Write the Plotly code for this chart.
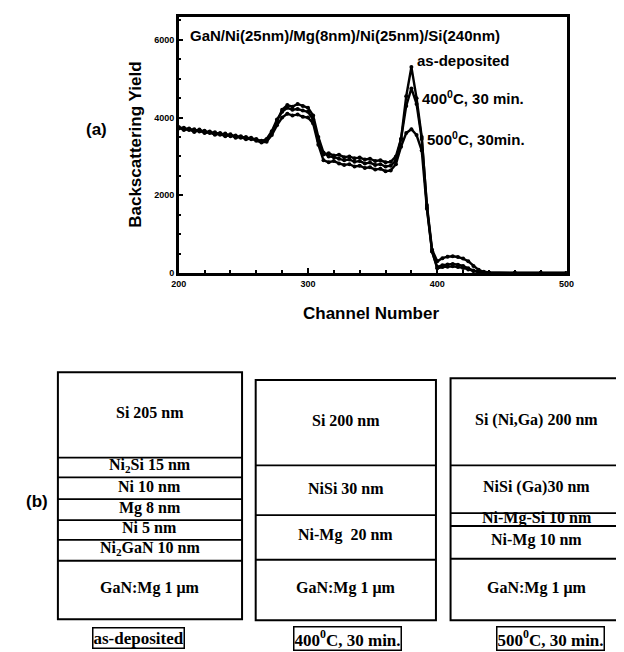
import plotly.graph_objects as go

W, H = 624, 652

# ---------------- data: RBS spectra ----------------
channel = [200, 204, 208, 212, 216, 220, 224, 228, 232, 236, 240, 244, 248, 252, 256, 260,
           264, 268, 272, 276, 280, 284, 288, 292, 296, 300, 304, 308, 312, 316, 320, 324,
           328, 332, 336, 340, 344, 348, 352, 356, 360, 364, 368, 372, 376, 380, 384, 388,
           392, 396, 400, 404, 408, 412, 416, 420, 424, 428, 432, 436, 440, 460, 480, 500]

as_deposited = [3760, 3700, 3720, 3650, 3690, 3620, 3640, 3580, 3600, 3540, 3570, 3500, 3520, 3460, 3480, 3420,
                3400, 3420, 3600, 3900, 4200, 4320, 4280, 4350, 4300, 4250, 4050, 3500, 3100, 3000, 2980, 2940,
                2900, 2920, 2860, 2880, 2820, 2840, 2780, 2800, 2740, 2760, 2900, 3450, 4550, 5300, 4500, 3500,
                1700, 550, 150, 200, 220, 230, 210, 180, 120, 60, 30, 10, 0, 0, 0, 0]

anneal_400 = [3720, 3740, 3680, 3700, 3640, 3660, 3600, 3620, 3560, 3590, 3520, 3540, 3480, 3500, 3440, 3450,
              3380, 3450, 3650, 3950, 4150, 4250, 4200, 4220, 4180, 4150, 3950, 3400, 3050, 3080, 3020, 3040,
              2980, 3000, 2950, 2970, 2920, 2940, 2880, 2900, 2850, 2860, 3000, 3450, 4300, 4750, 4350, 3450,
              1750, 600, 300, 380, 420, 430, 410, 370, 300, 180, 80, 30, 10, 0, 0, 0]

anneal_500 = [3740, 3680, 3700, 3630, 3670, 3600, 3620, 3560, 3580, 3520, 3550, 3480, 3500, 3440, 3460, 3400,
              3360, 3380, 3550, 3800, 4000, 4100, 4050, 4080, 4020, 4000, 3850, 3300, 2900, 2850, 2880, 2820,
              2780, 2800, 2740, 2760, 2700, 2720, 2660, 2680, 2620, 2640, 2800, 3250, 3600, 3700, 3550, 3150,
              1650, 550, 120, 150, 160, 170, 150, 130, 90, 50, 20, 10, 0, 0, 0, 0]

x_ticks = [200, 300, 400, 500]
y_ticks = [0, 2000, 4000, 6000]

# ---------------- data: layer stacks (label, drawn thickness) ----------------
stack1_labels = ["Si 205 nm", "Ni<sub>2</sub>Si 15 nm", "Ni 10 nm", "Mg 8 nm", "Ni 5 nm",
                 "Ni<sub>2</sub>GaN 10 nm", "GaN:Mg 1 μm"]
stack1_sizes = [86, 20, 22, 21, 20, 21, 59]
stack2_labels = ["Si 200 nm", "NiSi 30 nm", "Ni-Mg  20 nm", "GaN:Mg 1 μm"]
stack2_sizes = [86, 50, 45, 61]
stack3_labels = ["Si (Ni,Ga) 200 nm", "NiSi (Ga)30 nm", "Ni-Mg-Si 10 nm", "Ni-Mg 10 nm", "GaN:Mg 1 μm"]
stack3_sizes = [88, 48, 13, 33, 62]
stack_titles = ["as-deposited", "400<sup>0</sup>C, 30 min.", "500<sup>0</sup>C, 30 min."]


def px(x):
    return x / W


def py(y):
    return 1 - y / H


fig = go.Figure()
for ys in (as_deposited, anneal_400, anneal_500):
    fig.add_trace(go.Scatter(x=channel, y=ys, mode="lines+markers",
                             line=dict(color="black", width=2.4),
                             marker=dict(color="black", size=4),
                             showlegend=False, hoverinfo="skip"))

tickfont = dict(family="Liberation Sans, Arial", size=9, color="black", weight="bold")
fig.update_xaxes(range=[200, 500], domain=[px(167), px(565)], tickvals=x_ticks,
                 ticks="inside", ticklen=5, tickwidth=1.5, tickcolor="black",
                 minor=dict(dtick=20, ticks="inside", ticklen=3, tickcolor="black"),
                 showline=True, linecolor="black", linewidth=2.5, mirror=True,
                 showgrid=False, zeroline=False, tickfont=tickfont)
fig.update_yaxes(range=[0, 6590], domain=[py(267), py(9)], tickvals=y_ticks,
                 ticks="inside", ticklen=5, tickwidth=1.5, tickcolor="black",
                 minor=dict(dtick=500, ticks="inside", ticklen=3, tickcolor="black"),
                 showline=True, linecolor="black", linewidth=2.5, mirror=True,
                 showgrid=False, zeroline=False, tickfont=tickfont)

sans = "Liberation Sans, Arial"
serif = "Liberation Serif, Times New Roman"
ann = []
ann.append(dict(text="GaN/Ni(25nm)/Mg(8nm)/Ni(25nm)/Si(240nm)", x=px(177), y=py(28), xanchor="left",
                font=dict(family=sans, size=15, weight="bold")))
ann.append(dict(text="as-deposited", x=px(410), y=py(53), xanchor="left",
                font=dict(family=sans, size=15, weight="bold")))
ann.append(dict(text="400<sup>0</sup>C, 30 min.", x=px(415), y=py(90), xanchor="left",
                font=dict(family=sans, size=15, weight="bold")))
ann.append(dict(text="500<sup>0</sup>C, 30min.", x=px(420), y=py(132), xanchor="left",
                font=dict(family=sans, size=15, weight="bold")))
ann.append(dict(text="Backscattering Yield", x=px(123), y=py(138), textangle=-90,
                font=dict(family=sans, size=17, weight="bold")))
ann.append(dict(text="Channel Number", x=px(364), y=py(308),
                font=dict(family=sans, size=17, weight="bold")))
ann.append(dict(text="(a)", x=px(83), y=py(122), font=dict(family=sans, size=17, weight="bold")))
ann.append(dict(text="(b)", x=px(22), y=py(497), font=dict(family=sans, size=17, weight="bold")))

shapes = []
stacks = [(stack1_labels, stack1_sizes, 43, 232, 616, 126),
          (stack2_labels, stack2_sizes, 246, 431, 617, 340),
          (stack3_labels, stack3_sizes, 446, 623, 617, 549)]
for i, (labels, sizes, left, right, bottom, tx) in enumerate(stacks):
    top = bottom - sum(sizes)
    shapes.append(dict(type="rect", xref="paper", yref="paper", x0=px(left), x1=px(right),
                       y0=py(bottom), y1=py(top), line=dict(color="black", width=2)))
    y = top
    for j, (lab, s) in enumerate(zip(labels, sizes)):
        y_next = y + s
        if j < len(sizes) - 1:
            shapes.append(dict(type="line", xref="paper", yref="paper", x0=px(left), x1=px(right),
                               y0=py(y_next), y1=py(y_next), line=dict(color="black", width=1.8)))
        ann.append(dict(text=lab, x=px((left + right) / 2), y=py((y + y_next) / 2 - 2),
                        font=dict(family=serif, size=16, weight="bold")))
        y = y_next
    ann.append(dict(text=stack_titles[i], x=px(tx), y=py(635), bordercolor="black", borderwidth=1.5,
                    borderpad=0, bgcolor="white",
                    font=dict(family=serif, size=17, weight="bold")))

for a in ann:
    a.setdefault("xref", "paper")
    a.setdefault("yref", "paper")
    a.setdefault("xanchor", "center")
    a.setdefault("yanchor", "middle")
    a["showarrow"] = False
    a["font"].setdefault("color", "black")

fig.update_layout(width=W, height=H, margin=dict(l=0, r=0, t=0, b=0),
                  paper_bgcolor="white", plot_bgcolor="white",
                  annotations=ann, shapes=shapes)
fig.write_html("out.html")
